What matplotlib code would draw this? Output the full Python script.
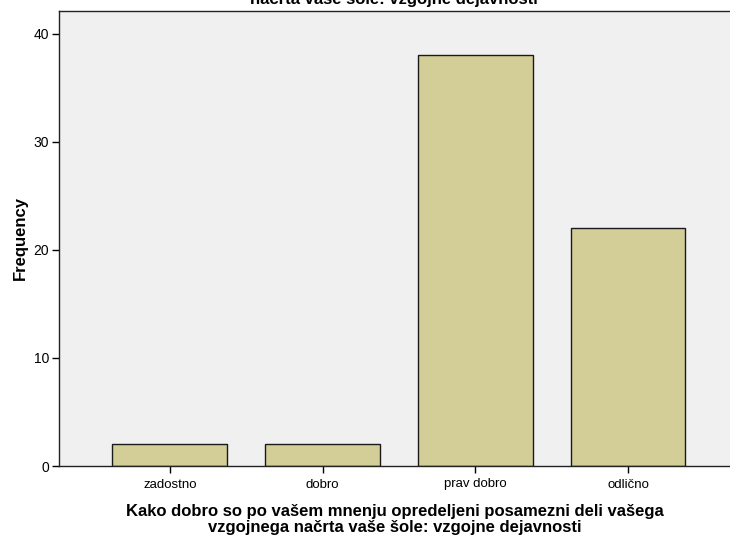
import matplotlib
matplotlib.use("Agg")
import matplotlib.pyplot as plt

plt.rcParams["font.family"] = ["Liberation Sans", "DejaVu Sans"]

categories = ["zadostno", "dobro", "prav dobro", "odlično"]
frequencies = [2, 2, 38, 22]
y_ticks = [0, 10, 20, 30, 40]

fig = plt.figure(figsize=(7.3, 5.4), dpi=100)
ax = fig.add_axes([59 / 730, 74 / 540, 1 - 59 / 730, (466 - 11) / 540])
ax.set_facecolor("#f0f0f0")

x = list(range(len(categories)))
ax.bar(x, frequencies, width=0.75, color="#d3ce97", edgecolor="#1a1a1a", linewidth=1.0, zorder=2)

ax.set_xlim(-0.725, 3.667)
ax.set_ylim(0, 42.1)
ax.set_xticks(x)
ax.set_xticklabels(categories, fontsize=9.5)
ax.set_yticks(y_ticks)
ax.tick_params(axis="both", direction="out", length=5, width=1, labelsize=10, pad=2)
ax.tick_params(axis="x", pad=4, labelsize=9.5)

for side in ["left", "bottom", "top"]:
    ax.spines[side].set_color("#222222")
    ax.spines[side].set_linewidth(1)
ax.spines["right"].set_visible(False)

ax.set_ylabel("Frequency", fontsize=12, fontweight="bold", labelpad=4)
ax.set_xlabel("Kako dobro so po vašem mnenju opredeljeni posamezni deli vašega\n"
              "vzgojnega načrta vaše šole: vzgojne dejavnosti",
              fontsize=12, fontweight="bold", labelpad=10, linespacing=1.05)

# clipped title remnant at the top
fig.text(0.5 + 29 / 730, 1 - 4 / 540, "načrta vaše šole: vzgojne dejavnosti",
         ha="center", va="baseline", fontsize=12, fontweight="bold")

fig.savefig("out.png", dpi=100)
